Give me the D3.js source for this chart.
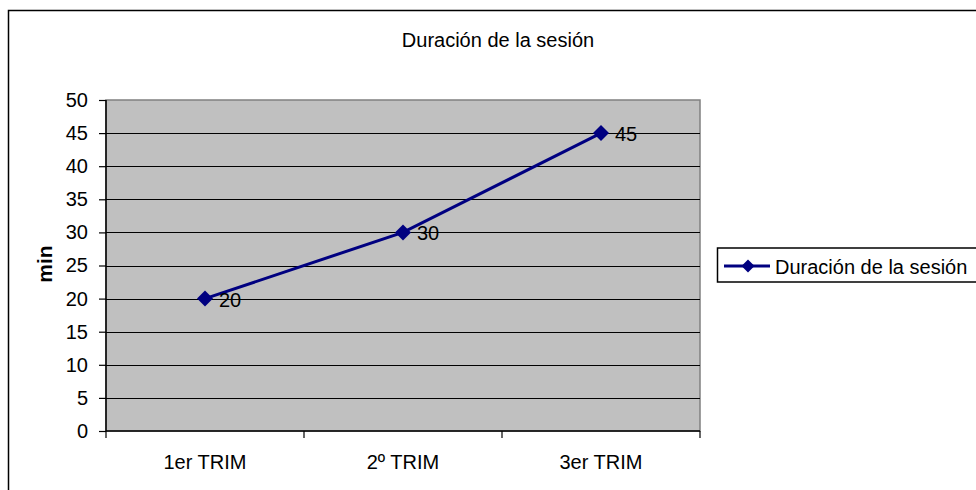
<!DOCTYPE html>
<html>
<head>
<meta charset="utf-8">
<script src="https://cdn.jsdelivr.net/npm/d3@7"></script>
<style>
  html, body { margin: 0; padding: 0; background: #fff; }
  svg { display: block; font-family: "Liberation Sans", Arial, sans-serif; }
</style>
</head>
<body>
<svg id="chart" width="976" height="490"></svg>
<script>
// Session length per quarter
const categories = ["1er TRIM", "2º TRIM", "3er TRIM"];
const values = [20, 30, 45];
const yTicks = [0, 5, 10, 15, 20, 25, 30, 35, 40, 45, 50];
const chartTitle = "Duración de la sesión";
const seriesName = "Duración de la sesión";
const yTitle = "min";

const svg = d3.select("#chart");
const plot = { left: 106, top: 100, right: 700, bottom: 431 };
const lineColor = "#000080";
const fs = 20;

// Outer chart frame (runs past the window edge)
svg.append("rect")
  .attr("x", 8.5).attr("y", 10.5)
  .attr("width", 1100).attr("height", 600)
  .attr("fill", "#fff").attr("stroke", "#000").attr("stroke-width", 1.5);

const x = d3.scaleBand().domain(categories).range([plot.left, plot.right]);
const y = d3.scaleLinear().domain([0, 50]).range([plot.bottom, plot.top]);

// Plot area
svg.append("rect")
  .attr("x", plot.left).attr("y", plot.top)
  .attr("width", plot.right - plot.left).attr("height", plot.bottom - plot.top)
  .attr("fill", "#c0c0c0").attr("stroke", "#808080").attr("stroke-width", 1.5);

// Horizontal gridlines
svg.append("g").selectAll("line")
  .data(yTicks.filter(d => d > 0 && d < 50))
  .join("line")
  .attr("x1", plot.left).attr("x2", plot.right)
  .attr("y1", d => Math.round(y(d)) + 0.5).attr("y2", d => Math.round(y(d)) + 0.5)
  .attr("stroke", "#000").attr("stroke-width", 1.2);

// Y axis
const yAxis = svg.append("g")
  .attr("transform", `translate(${plot.left},0)`)
  .call(d3.axisLeft(y).tickValues(yTicks).tickSize(7).tickPadding(11).tickFormat(d3.format("d")));
yAxis.select(".domain").attr("stroke", "#000").attr("stroke-width", 1.5).attr("d", `M0,${plot.top}V${plot.bottom}`);
yAxis.selectAll(".tick line").attr("stroke", "#000").attr("stroke-width", 1.2);
yAxis.selectAll(".tick text").attr("font-size", fs).attr("fill", "#000")
  .attr("font-family", "Liberation Sans, Arial, sans-serif");

// X axis with ticks at category boundaries
const xAxisG = svg.append("g").attr("transform", `translate(0,${plot.bottom})`);
xAxisG.append("line")
  .attr("x1", plot.left).attr("x2", plot.right)
  .attr("y1", 0).attr("y2", 0)
  .attr("stroke", "#000").attr("stroke-width", 1.5);
const boundaries = categories.map(c => x(c)).concat([x(categories[categories.length - 1]) + x.bandwidth()]);
xAxisG.selectAll("line.tk").data(boundaries).join("line").attr("class", "tk")
  .attr("x1", d => d).attr("x2", d => d).attr("y1", 0).attr("y2", 7)
  .attr("stroke", "#000").attr("stroke-width", 1.2);
xAxisG.selectAll("text").data(categories).join("text")
  .attr("x", d => x(d) + x.bandwidth() / 2).attr("y", 38)
  .attr("text-anchor", "middle").attr("font-size", fs).attr("fill", "#000")
  .text(d => d);

// Y axis title
svg.append("text")
  .attr("transform", "translate(52,264) rotate(-90)")
  .attr("text-anchor", "middle").attr("font-size", 21).attr("font-weight", "bold")
  .text(yTitle);

// Chart title
svg.append("text")
  .attr("x", 498).attr("y", 47)
  .attr("text-anchor", "middle").attr("font-size", fs)
  .text(chartTitle);

// Series line
const cx = d => x(d) + x.bandwidth() / 2;
const data = categories.map((c, i) => ({ c, v: values[i] }));
svg.append("path")
  .datum(data)
  .attr("fill", "none").attr("stroke", lineColor).attr("stroke-width", 3)
  .attr("d", d3.line().x(d => cx(d.c)).y(d => y(d.v)));

const diamond = s => `M0,${-s}L${s},0L0,${s}L${-s},0Z`;
svg.append("g").selectAll("path")
  .data(data).join("path")
  .attr("transform", d => `translate(${cx(d.c)},${y(d.v)})`)
  .attr("d", diamond(8)).attr("fill", lineColor);

// Data labels
svg.append("g").selectAll("text")
  .data(data).join("text")
  .attr("x", d => cx(d.c) + 14).attr("y", d => y(d.v) + 8)
  .attr("font-size", fs).attr("fill", "#000")
  .text(d => d.v);

// Legend
const lg = svg.append("g");
lg.append("rect")
  .attr("x", 717.5).attr("y", 248).attr("width", 300).attr("height", 34)
  .attr("fill", "#fff").attr("stroke", "#000").attr("stroke-width", 1.5);
lg.append("line")
  .attr("x1", 724).attr("x2", 770).attr("y1", 266).attr("y2", 266)
  .attr("stroke", lineColor).attr("stroke-width", 3);
lg.append("path").attr("transform", "translate(748,266)").attr("d", diamond(6.5)).attr("fill", lineColor);
lg.append("text").attr("x", 775).attr("y", 274).attr("font-size", fs).text(seriesName);
</script>
</body>
</html>
